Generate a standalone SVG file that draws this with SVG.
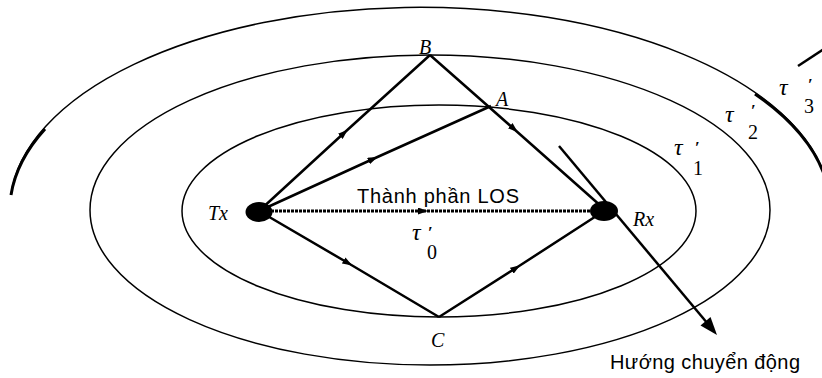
<svg xmlns="http://www.w3.org/2000/svg" width="822" height="378" viewBox="0 0 822 378">
<style>
.curve{fill:none;stroke:#000;stroke-width:1.5}
.thick{fill:none;stroke:#000;stroke-width:3}
.ray{fill:none;stroke:#000;stroke-width:2.5;marker-mid:url(#tri)}
.los{fill:none;stroke:#000;stroke-width:3;stroke-dasharray:3 1;marker-mid:url(#tri)}
.lbl{font-family:"Liberation Serif",serif;font-style:italic;font-size:20px;fill:#000}
.tau{font-family:"Liberation Serif",serif;font-style:italic;font-size:24px;fill:#000}
.pr{font-family:"Liberation Serif",serif;font-weight:bold;font-size:17px;fill:#000}
.sub{font-family:"Liberation Serif",serif;font-size:20px;fill:#000}
.sans{font-family:"Liberation Sans",Arial,sans-serif;font-size:20px;fill:#000}
</style>
<defs>
<marker id="tri" viewBox="0 0 10 7" refX="5" refY="3.5" markerUnits="userSpaceOnUse" markerWidth="10" markerHeight="7" orient="auto">
<path d="M0,0 L10,3.5 L0,7 z" fill="#000"/>
</marker>
</defs>
<rect width="822" height="378" fill="#fff"/>
<g id="contours">
<ellipse class="curve" cx="439" cy="211" rx="257" ry="106"/>
<ellipse class="curve" cx="430" cy="210" rx="340" ry="155"/>
<path class="curve" d="M11,195 A410 201 0 0 1 826,180"/>
<path class="thick" d="M11,195 A410 201 0 0 1 45,129"/>
<path class="thick" d="M755,94 A410 201 0 0 1 826,180"/>
<line x1="798" y1="66" x2="824" y2="49" stroke="#000" stroke-width="2.5"/>
</g>
<g id="connectors">
<path class="ray" d="M259,211 L344,133 L430,55"/>
<path class="ray" d="M259,211 L373,159 L491,106"/>
<path class="ray" d="M430,55 L514,129 L602,207"/>
<path class="ray" d="M259,211 L348,263 L439,317"/>
<path class="ray" d="M439,317 L516,268 L604,211"/>
<path class="los" d="M259,211 L423,211 L604,211"/>
<g id="motion">
<line x1="559" y1="146" x2="708" y2="324" stroke="#000" stroke-width="2.5"/>
<polygon points="717,335 700.5,325.4 710.5,317" fill="#000"/>
</g>
</g>
<g id="Tx">
<ellipse cx="259" cy="212" rx="13.5" ry="10" fill="#000"/>
<text class="lbl" x="208" y="220">Tx</text>
</g>
<g id="Rx">
<ellipse cx="604" cy="211" rx="14" ry="10" fill="#000"/>
<text class="lbl" x="633" y="226">Rx</text>
</g>
<g id="B"><text class="lbl" x="419" y="54">B</text></g>
<g id="A"><text class="lbl" x="496" y="106">A</text></g>
<g id="C"><text class="lbl" x="431" y="347">C</text></g>
<g id="labels">
<text class="sans" x="357" y="203" textLength="162" lengthAdjust="spacing">Thành phần LOS</text>
<text class="sans" x="610" y="369" textLength="190" lengthAdjust="spacing">Hướng chuyển động</text>
<text class="tau" x="412" y="240">τ</text><text class="pr" x="428" y="238">′</text><text class="sub" x="427" y="259">0</text>
<text class="tau" x="674" y="155">τ</text><text class="pr" x="695" y="153">′</text><text class="sub" x="693" y="175">1</text>
<text class="tau" x="725" y="122">τ</text><text class="pr" x="751" y="116">′</text><text class="sub" x="748" y="139">2</text>
<text class="tau" x="779" y="95">τ</text><text class="pr" x="808" y="90">′</text><text class="sub" x="804" y="113">3</text>
</g>
</svg>
